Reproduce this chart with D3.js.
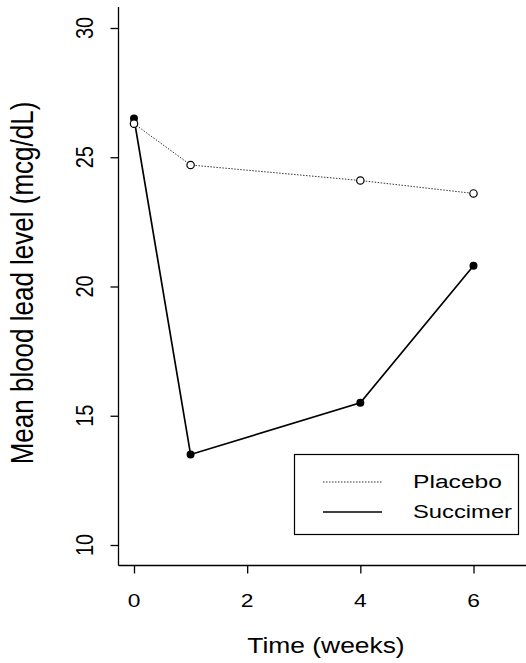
<!DOCTYPE html>
<html>
<head>
<meta charset="utf-8">
<script src="https://cdn.jsdelivr.net/npm/d3@7"></script>
<style>
  body { margin: 0; background: #fff; }
  svg text { font-family: "Liberation Sans", Arial, sans-serif; fill: #000; }
</style>
</head>
<body>
<div id="chart"></div>
<script>
const weeks = [0, 1, 4, 6];
const placebo = [26.3, 24.7, 24.1, 23.6];
const succimer = [26.5, 13.5, 15.5, 20.8];
const xTicks = [0, 2, 4, 6];
const yTicks = [10, 15, 20, 25, 30];
const seriesNames = ['Placebo', 'Succimer'];

const width = 526;
const height = 663;
// the original picture is a bit stretched sideways
const stretch = 1.2;

const x = d3.scaleLinear().domain([0, 6]).range([134, 473.5]);
const y = d3.scaleLinear().domain([10, 30]).range([545, 28]);

const svg = d3.select('#chart')
  .append('svg')
  .attr('width', width)
  .attr('height', height);

// open L-shaped frame
const axisLeftX = 118.5;
const axisBottomY = 565.5;

svg.append('line')
  .attr('x1', axisLeftX).attr('x2', axisLeftX)
  .attr('y1', 7).attr('y2', axisBottomY)
  .attr('stroke', '#000').attr('stroke-width', 1.3);

svg.append('line')
  .attr('x1', axisLeftX).attr('x2', width)
  .attr('y1', axisBottomY).attr('y2', axisBottomY)
  .attr('stroke', '#000').attr('stroke-width', 1.3);

// y axis ticks
const gy = svg.append('g')
  .attr('transform', `translate(${axisLeftX},0)`)
  .call(d3.axisLeft(y).tickValues(yTicks).tickSize(8).tickFormat(''));
gy.select('.domain').remove();
gy.selectAll('line').attr('stroke-width', 1.3);

svg.append('g')
  .selectAll('text')
  .data(yTicks)
  .join('text')
  .attr('transform', d => `translate(93,${y(d)}) scale(${stretch},1) rotate(-90)`)
  .attr('text-anchor', 'middle')
  .attr('font-size', 20)
  .text(d => d);

// x axis ticks
const gx = svg.append('g')
  .attr('transform', `translate(0,${axisBottomY})`)
  .call(d3.axisBottom(x).tickValues(xTicks).tickSize(8).tickFormat(''));
gx.select('.domain').remove();
gx.selectAll('line').attr('stroke-width', 1.3);

svg.append('g')
  .selectAll('text')
  .data(xTicks)
  .join('text')
  .attr('transform', d => `translate(${x(d)},607) scale(${stretch},1)`)
  .attr('text-anchor', 'middle')
  .attr('font-size', 19)
  .text(d => d3.format('d')(d));

// axis titles
svg.append('text')
  .attr('transform', `translate(326,653) scale(${stretch},1)`)
  .attr('text-anchor', 'middle')
  .attr('font-size', 22)
  .text('Time (weeks)');

svg.append('text')
  .attr('transform', `translate(33,283) scale(${stretch},1) rotate(-90)`)
  .attr('text-anchor', 'middle')
  .attr('font-size', 26)
  .text('Mean blood lead level (mcg/dL)');

const line = d3.line()
  .x((d, i) => x(weeks[i]))
  .y(d => y(d));

svg.append('path')
  .datum(placebo)
  .attr('d', line)
  .attr('fill', 'none')
  .attr('stroke', '#333')
  .attr('stroke-width', 1)
  .attr('stroke-dasharray', '1.5,1.5');

svg.append('path')
  .datum(succimer)
  .attr('d', line)
  .attr('fill', 'none')
  .attr('stroke', '#000')
  .attr('stroke-width', 1.7);

svg.append('g')
  .selectAll('circle')
  .data(succimer)
  .join('circle')
  .attr('cx', (d, i) => x(weeks[i]))
  .attr('cy', d => y(d))
  .attr('r', 4)
  .attr('fill', '#000');

svg.append('g')
  .selectAll('circle')
  .data(placebo)
  .join('circle')
  .attr('cx', (d, i) => x(weeks[i]))
  .attr('cy', d => y(d))
  .attr('r', 3.7)
  .attr('fill', '#fff')
  .attr('stroke', '#000')
  .attr('stroke-width', 1.2);

// legend
const legend = svg.append('g');
legend.append('rect')
  .attr('x', 294.5).attr('y', 454.5)
  .attr('width', 224).attr('height', 80)
  .attr('fill', '#fff')
  .attr('stroke', '#000')
  .attr('stroke-width', 1.2);

const legendRows = [
  { name: seriesNames[0], dash: '1.5,1.5', w: 1, color: '#333', len: 89 },
  { name: seriesNames[1], dash: null, w: 1.4, color: '#000', len: 99 },
];
legendRows.forEach((r, i) => {
  const ly = 482 + i * 30;
  legend.append('line')
    .attr('x1', 323).attr('x2', 382)
    .attr('y1', ly).attr('y2', ly)
    .attr('stroke', r.color)
    .attr('stroke-width', r.w)
    .attr('stroke-dasharray', r.dash);
  legend.append('text')
    .attr('x', 413)
    .attr('y', ly + 5.5)
    .attr('font-size', 18)
    .attr('textLength', r.len)
    .attr('lengthAdjust', 'spacingAndGlyphs')
    .text(r.name);
});
</script>
</body>
</html>
